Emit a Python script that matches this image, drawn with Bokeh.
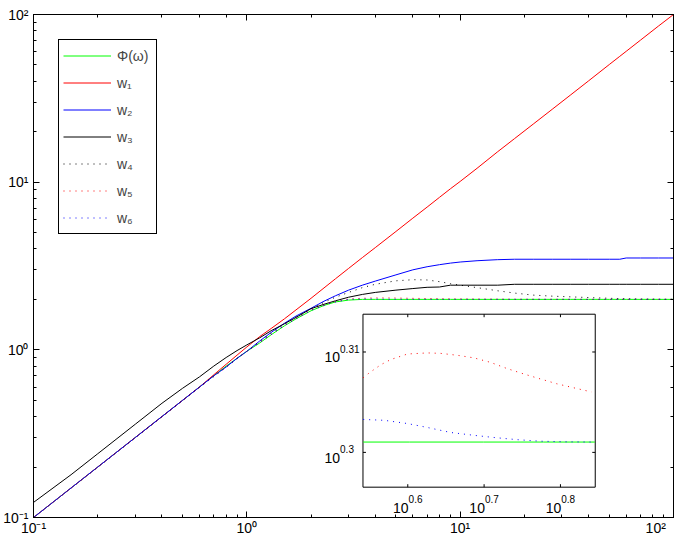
import numpy as np
from bokeh.plotting import figure
from bokeh.models import (Range1d, LogScale, LogAxis, BoxAnnotation, Label,
                          Legend, LegendItem, CustomJSTickFormatter)
from bokeh.embed import file_html
from bokeh.resources import INLINE

# ---------------- data ----------------
omega = [0.1, 0.15, 0.2, 0.3, 0.4, 0.5, 0.6, 0.7, 0.8, 0.9,
         1.0, 1.15, 1.3, 1.5, 1.7, 2.0, 2.3, 2.6, 3.0,
         3.48, 4.0, 5.0, 6.0, 7.0, 8.0, 9.0, 10.0, 12.0, 15.0, 18.0,
         22.0, 27.0, 33.0, 40.0, 50.0, 56.0, 60.0, 70.0, 85.0, 100.0]
phi = [0.1, 0.15, 0.2, 0.3, 0.4, 0.5, 0.6, 0.7, 0.8, 0.89,
       0.98, 1.1, 1.23, 1.39, 1.53, 1.71, 1.84, 1.93, 1.98,
       2.0, 2.0, 2.0, 2.0, 2.0, 2.0, 2.0, 2.0, 2.0, 2.0, 2.0,
       2.0, 2.0, 2.0, 2.0, 2.0, 2.0, 2.0, 2.0, 2.0, 2.0]
w1 = [0.1, 0.15, 0.2, 0.3, 0.4, 0.5, 0.6, 0.71, 0.82, 0.93,
      1.04, 1.2, 1.34, 1.53, 1.73, 2.03, 2.34, 2.65, 3.06,
      3.55, 4.07, 5.08, 6.1, 7.1, 8.12, 9.13, 10.1, 12.1, 15.2, 18.2,
      22.2, 27.2, 33.2, 40.2, 50.3, 56.3, 60.3, 70.3, 85.3, 100.0]
w2 = [0.1, 0.15, 0.2, 0.3, 0.4, 0.5, 0.6, 0.7, 0.79, 0.89,
      0.98, 1.13, 1.27, 1.44, 1.59, 1.77, 1.95, 2.1, 2.27,
      2.43, 2.57, 2.8, 3.0, 3.13, 3.22, 3.29, 3.34, 3.4, 3.45, 3.47,
      3.47, 3.47, 3.47, 3.47, 3.47, 3.47, 3.53, 3.53, 3.53, 3.53]
w3 = [0.123, 0.18, 0.24, 0.36, 0.48, 0.59, 0.69, 0.8, 0.9, 0.99,
      1.07, 1.18, 1.3, 1.43, 1.56, 1.76, 1.87, 1.96, 2.06,
      2.14, 2.2, 2.27, 2.32, 2.36, 2.37, 2.43, 2.43, 2.43, 2.43, 2.46,
      2.46, 2.46, 2.46, 2.46, 2.46, 2.46, 2.46, 2.46, 2.46, 2.46]
w4 = [0.1, 0.15, 0.2, 0.3, 0.4, 0.5, 0.6, 0.7, 0.79, 0.89,
      0.98, 1.12, 1.26, 1.42, 1.57, 1.75, 1.92, 2.06, 2.2,
      2.35, 2.46, 2.58, 2.62, 2.61, 2.55, 2.48, 2.43, 2.35, 2.25, 2.18,
      2.12, 2.09, 2.07, 2.05, 2.03, 2.02, 2.02, 2.01, 2.005, 2.0]
omega_w5 = [0.1, 0.2, 0.5, 1.0, 1.5, 2.0, 2.5, 3.0,
            3.48, 3.545, 3.671, 3.782, 3.978, 4.224, 4.395, 4.622,
            4.858, 5.108, 5.37, 5.646, 5.933, 6.242, 6.557, 6.931,
            8.0, 10.0, 15.0, 20.0, 30.0, 50.0, 100.0]
w5 = [0.1, 0.2, 0.5, 0.98, 1.4, 1.73, 1.92, 2.01,
      2.0297, 2.032, 2.0358, 2.0382, 2.0408, 2.0413, 2.0411, 2.0402,
      2.039, 2.0369, 2.034, 2.0315, 2.0292, 2.0269, 2.0251, 2.0231,
      2.018, 2.012, 2.006, 2.003, 2.001, 2.0, 2.0]
omega_w6 = [0.1, 0.2, 0.5, 1.0, 1.5, 2.0, 2.5, 3.0,
            3.48, 3.707, 3.978, 4.224, 4.529, 4.858, 5.159, 5.534,
            5.933, 6.43, 6.966, 8.0, 10.0, 20.0, 50.0, 100.0]
w6 = [0.1, 0.2, 0.5, 0.98, 1.4, 1.72, 1.91, 2.0,
      2.0104, 2.01, 2.0085, 2.0067, 2.0044, 2.0031, 2.0021, 2.0011,
      2.0004, 2.0001, 2.0, 2.0, 2.0, 2.0, 2.0, 2.0]

legend_labels = ["Φ(ω)", "w₁", "w₂", "w₃", "w₄", "w₅", "w₆"]
main_ticks = [0.1, 1.0, 10.0, 100.0]
main_tick_labels = ["10⁻¹", "10⁰", "10¹", "10²"]
inset_x_tick_exps = ["0.6", "0.7", "0.8"]
inset_y_tick_exps = ["0.3", "0.31"]
inset_x_log = (0.5413, 0.8456)      # log10 limits of the inset x axis
inset_y_log = (0.296535, 0.313762)  # log10 limits of the inset y axis

# ---------------- layout constants ----------------
W, H = 677, 538
FL, FR, FT, FB = 31, 673, 14, 520               # main frame (canvas px)
IL, IR, IT, IB = 361.5, 594.5, 315.5, 489.5     # inset box (canvas px, pixel centres)
IYLAB_X = 323                                   # left edge of the inset y labels
FONT = "Liberation Sans"

CW = {"0": .556, "1": .556, "2": .556, "3": .556, "4": .556, "5": .556,
      "6": .556, "7": .556, "8": .556, "9": .556, "-": .333, ".": .278}
def tw(s, size):
    return sum(CW[c] for c in s) * size

p = figure(width=W, height=H, x_axis_type="log", y_axis_type="log",
           x_range=Range1d(0.1, 100), y_range=Range1d(0.1, 100),
           output_backend="svg", toolbar_location=None,
           min_border_left=FL, min_border_right=W - FR,
           min_border_top=FT, min_border_bottom=H - FB)
p.background_fill_color = "white"
p.border_fill_color = "white"
p.outline_line_color = "black"
p.outline_line_width = 1
p.grid.visible = False

# extra (inset) log ranges spanning the whole frame, so that the inset box maps correctly
kx = (inset_x_log[1] - inset_x_log[0]) / (IR - IL)
ky = (inset_y_log[1] - inset_y_log[0]) / (IB - IT)
ix_s = inset_x_log[0] - (IL - FL) * kx
ix_e = inset_x_log[1] + (FR - IR) * kx
iy_s = inset_y_log[0] - (FB - IB) * ky
iy_e = inset_y_log[1] + (IT - FT) * ky
p.extra_x_ranges = {"ix": Range1d(10 ** ix_s, 10 ** ix_e)}
p.extra_y_ranges = {"iy": Range1d(10 ** iy_s, 10 ** iy_e)}
p.extra_x_scales = {"ix": LogScale()}
p.extra_y_scales = {"iy": LogScale()}

top_ax, right_ax = LogAxis(), LogAxis()
p.add_layout(top_ax, "above")
p.add_layout(right_ax, "right")
for ax in p.axis:
    ax.major_tick_in = 6
    ax.major_tick_out = 0
    ax.minor_tick_in = 3
    ax.minor_tick_out = 0
    ax.axis_line_color = "black"
    ax.major_tick_line_color = "black"
    ax.minor_tick_line_color = "black"
    ax.major_label_text_font = FONT
    ax.major_label_text_color = "black"
for ax in (top_ax, right_ax):
    ax.formatter = CustomJSTickFormatter(code="return ''")
    ax.major_label_text_font_size = "0px"
    ax.major_label_standoff = 0

xa, ya = p.below[0], p.left[0]
xa.major_label_text_font_size = "14px"
xa.major_label_standoff = 2
xlabs = dict(zip(main_ticks, main_tick_labels))
xlabs[100.0] = xlabs[100.0] + "\u00a0\u00a0\u00a0"   # keep the last label inside the canvas
xa.major_label_overrides = xlabs
ya.major_label_text_font_size = "14px"
ya.major_label_standoff = 5
ya.major_label_overrides = dict(zip(main_ticks, main_tick_labels))

# ---------------- main curves ----------------
r_phi = p.line(omega, phi, line_color="#00ff00", line_width=1)
r1 = p.line(omega, w1, line_color="#ff0000", line_width=1)
r2 = p.line(omega, w2, line_color="#0000ff", line_width=1)
r3 = p.line(omega, w3, line_color="black", line_width=1)
r4 = p.line(omega, w4, line_color="black", line_width=1, line_dash="1 5")
r5 = p.line(omega_w5, w5, line_color="#ff0000", line_width=1, line_dash="1 5")
r6 = p.line(omega_w6, w6, line_color="#0000ff", line_width=1, line_dash="1 5")

legend = Legend(items=[LegendItem(label=l, renderers=[r]) for l, r in
                       zip(legend_labels, [r_phi, r1, r2, r3, r4, r5, r6])],
                location="top_left", margin=25, padding=4, spacing=4,
                glyph_width=48, glyph_height=23, label_height=23, label_width=35,
                label_standoff=6, label_text_font=FONT, label_text_font_size="14px",
                border_line_color="black", border_line_width=1, border_line_alpha=1,
                background_fill_color="white", background_fill_alpha=1)
p.add_layout(legend)

# ---------------- inset ----------------
xlo, xhi = 10 ** inset_x_log[0], 10 ** inset_x_log[1]
ylo, yhi = 10 ** inset_y_log[0], 10 ** inset_y_log[1]
p.add_layout(BoxAnnotation(left=xlo, right=xhi, bottom=ylo, top=yhi,
                           x_range_name="ix", y_range_name="iy",
                           fill_color="white", fill_alpha=1,
                           line_color="black", line_width=1, line_alpha=1,
                           level="underlay"))

def clip(xs, ys):
    pts = [(x, y) for x, y in zip(xs, ys) if xlo * 0.999 <= x <= xhi * 1.001]
    return [a for a, _ in pts], [b for _, b in pts]

cx, cy = clip(omega, phi)
p.line(cx, cy, line_color="#00ff00", line_width=1, x_range_name="ix", y_range_name="iy")
cx, cy = clip(omega_w5, w5)
p.line(cx, cy, line_color="#ff0000", line_width=1, line_dash="1 5", x_range_name="ix", y_range_name="iy")
cx, cy = clip(omega_w6, w6)
p.line(cx, cy, line_color="#0000ff", line_width=1, line_dash="1 5", x_range_name="ix", y_range_name="iy")

# inset ticks (inward, all four sides)
TL = 3
txs = [10 ** float(e) for e in inset_x_tick_exps]
tys = [10 ** float(e) for e in inset_y_tick_exps]
x0 = txs + txs; x1 = txs + txs
y0 = [ylo] * len(txs) + [yhi] * len(txs)
y1 = [10 ** (inset_y_log[0] + TL * ky)] * len(txs) + [10 ** (inset_y_log[1] - TL * ky)] * len(txs)
x0 += [xlo] * len(tys) + [xhi] * len(tys)
x1 += [10 ** (inset_x_log[0] + TL * kx)] * len(tys) + [10 ** (inset_x_log[1] - TL * kx)] * len(tys)
y0 += tys + tys; y1 += tys + tys
p.segment(x0, y0, x1, y1, line_color="black", line_width=1, x_range_name="ix", y_range_name="iy")

def lab(x, y, text, size, xo, yo, xr="default", yr="default"):
    p.add_layout(Label(x=x, y=y, text=text, x_offset=xo, y_offset=yo,
                       text_font=FONT, text_font_size=f"{size}px", text_color="black",
                       text_align="left", text_baseline="alphabetic",
                       x_range_name=xr, y_range_name=yr))

# inset x tick labels
for e in inset_x_tick_exps:
    w10, we = tw("10", 14), tw(e, 10)
    left = -(w10 + we) / 2
    lab(10 ** float(e), ylo, "10", 14, left, -20.7, "ix", "iy")
    lab(10 ** float(e), ylo, e, 10, left + w10, -11.7, "ix", "iy")

# inset y tick labels
for e in inset_y_tick_exps:
    lab(xlo, 10 ** float(e), "10", 14, -(IL - IYLAB_X), -5.5, "ix", "iy")
    lab(xlo, 10 ** float(e), e, 10, -(IL - IYLAB_X) + tw("10", 14), 3, "ix", "iy")

open("out.html", "w").write(file_html(p, INLINE))
